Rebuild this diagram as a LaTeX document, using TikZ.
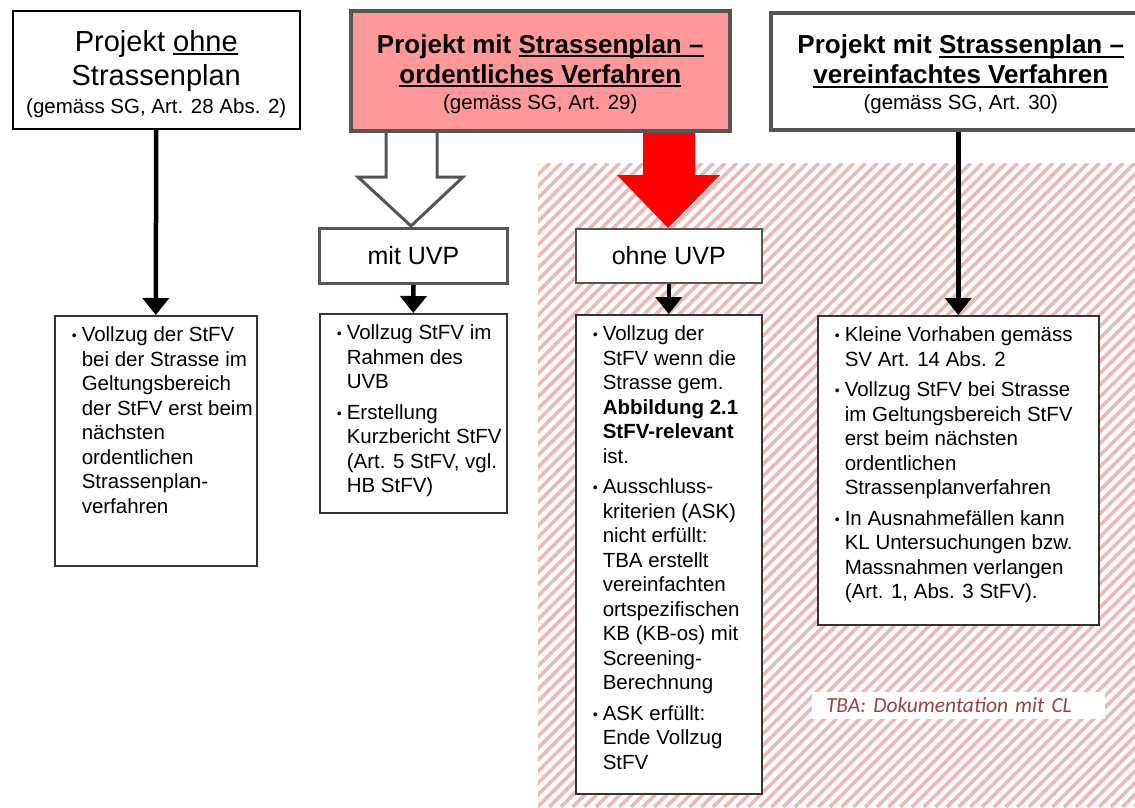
\documentclass[tikz,border=0pt]{standalone}
\usepackage{fontspec}
\setmainfont{Liberation Sans}
\newfontfamily\calibri{Carlito}
\usepackage{tikz}
\usetikzlibrary{arrows.meta}

\definecolor{boxgray}{RGB}{85,85,85}
\definecolor{planred}{RGB}{255,153,153}
\definecolor{hatchred}{RGB}{236,184,184}
\definecolor{notered}{RGB}{160,64,64}

\newsavebox\undlbox
\newcommand\undl[1]{\sbox\undlbox{#1}\rlap{\rule[-4pt]{\wd\undlbox}{2pt}}\usebox\undlbox}
\newcommand\bul[1]{\par\noindent\makebox[10pt][l]{\raisebox{1pt}{\fontsize{14}{14}\selectfont\textbullet}}\begin{tabular}[t]{@{}l@{}}#1\end{tabular}\par}
\newcommand\bulblock[3]{\parbox[c][#2][t]{#1}{\fontsize{20.5}{24.5}\selectfont\lineskip=0pt\parskip=6pt\leftskip=17pt\vspace*{3pt}#3}}

\tikzset{
	titlebox/.style={draw=black, line width=1.5pt, fill=white, align=center, inner sep=0pt, anchor=north west},
	planbox/.style={titlebox, draw=boxgray, line width=3.5pt},
	uvpbox/.style={draw=boxgray, fill=white, inner sep=0pt, anchor=north west, font=\fontsize{25}{30}\selectfont},
	textbox/.style={draw=black!80, line width=1.5pt, fill=white, inner sep=0pt, anchor=north west},
	conn/.style={line width=4.5pt, -{Triangle[width=26pt,length=17pt]}},
	hatchline/.style={line width=3.6pt, draw=hatchred},
}

\begin{document}
\begin{tikzpicture}[x=1pt, y=-1pt]
			%%%%% START %%%%%
			\useasboundingbox (0,0) rectangle (1135,807);
			
			% hatched area
			\begin{scope}
				\clip (538,163) rectangle (1135,807);
				\foreach \k in {0,...,107}
					\draw[hatchline] ({701+11.7*\k-807},807) -- ({701+11.7*\k-163},163);
			\end{scope}
			
			% block arrows
			\draw[line width=3pt, draw=boxgray, fill=white] (386,120) -- (386,177) -- (358,177) -- (411,226) -- (463,177) -- (437,177) -- (437,120) -- cycle;
			\fill[red] (643,120) -- (643,175) -- (617,175) -- (668,228) -- (720,175) -- (695,175) -- (695,120) -- cycle;
			
			% top row
			\node[titlebox, minimum width=287pt, minimum height=118pt, font=\fontsize{29}{34}\selectfont] (noplan) at (12,10) {\rule{0pt}{29pt}Projekt \undl{ohne}\\Strassenplan\\[-6pt]{\fontsize{20.5}{24}\selectfont (gemäss SG, Art. 28 Abs. 2)}};
			\node[planbox, fill=planred, minimum width=379pt, minimum height=120pt, font=\bfseries\fontsize{26}{30}\selectfont] (ordplan) at (349,9) {\rule{0pt}{25pt}Projekt mit \undl{Strassenplan –}\\\undl{ordentliches Verfahren}\\[-4pt]{\mdseries\fontsize{20.5}{24}\selectfont (gemäss SG, Art. 29)}};
			\node[planbox, minimum width=380pt, minimum height=117pt, font=\bfseries\fontsize{26}{30}\selectfont] (simplan) at (769,11) {\rule{0pt}{25pt}Projekt mit \undl{Strassenplan –}\\\undl{vereinfachtes Verfahren}\\[-4pt]{\mdseries\fontsize{20.5}{24}\selectfont (gemäss SG, Art. 30)}};
			
			% UVP
			\node[uvpbox, line width=3pt, minimum width=188pt, minimum height=55pt] (withuvp) at (318,227) {mit UVP};
			\node[uvpbox, line width=1.5pt, minimum width=186pt, minimum height=54pt] (nouvp) at (575,228) {ohne UVP};
			
			% text boxes
			\node[textbox] (noplantext) at (54,315) {\bulblock{202pt}{250pt}{%
				\bul{Vollzug der StFV\\bei der Strasse im\\Geltungsbereich\\der StFV erst beim\\nächsten\\ordentlichen\\Strassenplan-\\verfahren}}};
			\node[textbox] (withuvptext) at (319,313) {\bulblock{187pt}{199pt}{%
				\bul{Vollzug StFV im\\Rahmen des\\UVB}%
				\bul{Erstellung\\Kurzbericht StFV\\(Art. 5 StFV, vgl.\\HB StFV)}}};
			\node[textbox] (nouvptext) at (575,314) {\bulblock{186pt}{479pt}{%
				\bul{Vollzug der\\StFV wenn die\\Strasse gem.\\\textbf{Abbildung 2.1}\\\textbf{StFV-relevant}\\ist.}%
				\bul{Ausschluss-\\kriterien (ASK)\\nicht erfüllt:\\TBA erstellt\\vereinfachten\\ortspezifischen\\KB (KB-os) mit\\Screening-\\Berechnung}%
				\bul{ASK erfüllt:\\Ende Vollzug\\StFV}}};
			\node[textbox] (simplantext) at (817,315) {\bulblock{281pt}{309pt}{%
				\bul{Kleine Vorhaben gemäss\\SV Art. 14 Abs. 2}%
				\bul{Vollzug StFV bei Strasse\\im Geltungsbereich StFV\\erst beim nächsten\\ordentlichen\\Strassenplanverfahren}%
				\bul{In Ausnahmefällen kann\\KL Untersuchungen bzw.\\Massnahmen verlangen\\(Art. 1, Abs. 3 StFV).}}};
			
			\node[fill=white, minimum width=293pt, minimum height=27pt, text width=265pt, align=left, inner xsep=14pt, inner ysep=0pt, text=notered, font=\calibri\itshape\fontsize{21.5}{24}\selectfont] (note) at (958.5,705.5) {TBA: Dokumentation mit CL};
			
			% connectors
			\draw[conn] (noplan.south) -- (noplantext.north);
			\draw[conn] (withuvp.south) -- (withuvptext.north);
			\draw[conn] (nouvp.south) -- (nouvptext.north);
			\draw[conn] (simplan.south -| simplantext.north) -- (simplantext.north);
			
			%%%%% END %%%%%
\end{tikzpicture}
\end{document}
